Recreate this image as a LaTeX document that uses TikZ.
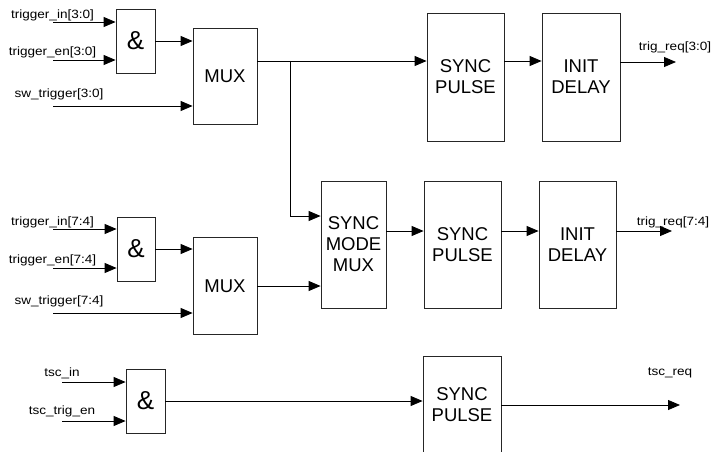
\documentclass[tikz,border=0pt]{standalone}
\usepackage{fontspec}
\usepackage{graphicx}
\setmainfont{Liberation Sans}
\usetikzlibrary{arrows.meta}
\newcommand{\lbl}[1]{\fontsize{12}{14}\selectfont\scalebox{1.13}[1]{#1}}
\begin{document}
\begin{tikzpicture}[x=1pt,y=-1pt,
  blk/.style={draw=black!85,line width=0.8pt,fill=white,inner sep=0pt,align=center,
    font=\fontsize{18.5}{21}\selectfont},
  gate/.style={blk,minimum width=39pt,minimum height=64pt,font=\fontsize{26}{28}\selectfont},
  mux/.style={blk,minimum width=64pt,minimum height=96pt},
  tall/.style={blk,minimum width=77pt,minimum height=128pt},
  arr/.style={line width=0.8pt,-{Triangle[length=12pt,width=10pt]}},
  wire/.style={line width=0.8pt},
  lab/.style={inner sep=0pt}]
\clip (0,0) rectangle (712,452);
\fill[white] (0,0) rectangle (712,452);
% top row
\node[gate] (and1) at (135.5,41) {\&};
\node[mux] (mux1) at (225,76) {MUX};
\node[tall] (sp1) at (465.5,77) {SYNC\\PULSE};
\node[tall,minimum width=78pt] (id1) at (581,77) {INIT\\DELAY};
% middle row
\node[gate,minimum width=38pt] (and2) at (136,249) {\&};
\node[mux,minimum height=97pt] (mux2) at (225,286) {MUX};
\node[tall,minimum width=65pt,minimum height=127pt] (smm) at (353.5,244.5) {SYNC\\MODE\\MUX};
\node[tall,minimum height=127pt] (sp2) at (462.5,244.5) {SYNC\\PULSE};
\node[tall,minimum height=127pt] (id2) at (577.5,244.5) {INIT\\DELAY};
% bottom row
\node[gate] (and3) at (145.5,401) {\&};
\node[tall,minimum width=78pt,minimum height=98pt] (sp3) at (462,405) {SYNC\\PULSE};

% labels
\node[lab] (lti1) at (52.5,15) {\lbl{trigger\_in[3:0]}};
\node[lab] (lte1) at (52.5,52) {\lbl{trigger\_en[3:0]}};
\node[lab] (lsw1) at (59,94) {\lbl{sw\_trigger[3:0]}};
\node[lab] (lo1) at (675,47) {\lbl{trig\_req[3:0]}};
\node[lab] (lti2) at (52.5,222) {\lbl{trigger\_in[7:4]}};
\node[lab] (lte2) at (52.5,260) {\lbl{trigger\_en[7:4]}};
\node[lab] (lsw2) at (59,301) {\lbl{sw\_trigger[7:4]}};
\node[lab] (lo2) at (673,222) {\lbl{trig\_req[7:4]}};
\node[lab] (lti3) at (62,373) {\lbl{tsc\_in}};
\node[lab] (lte3) at (62,411) {\lbl{tsc\_trig\_en}};
\node[lab] (lo3) at (670,373) {\lbl{tsc\_req}};

% free ends
\coordinate (ti1) at (53,22);
\coordinate (te1) at (53,60);
\coordinate (sw1) at (53,106);
\coordinate (b1) at (290,61);
\coordinate (b2) at (290,216);
\coordinate (o1) at (676,62);
\coordinate (ti2) at (53,229);
\coordinate (te2) at (53,268);
\coordinate (sw2) at (53,313);
\coordinate (r2) at (0,231);
\coordinate (o2) at (672,231);
\coordinate (ti3) at (62,382);
\coordinate (te3) at (62,421);
\coordinate (o3) at (680,405);

% top connectors
\draw[arr] (ti1) -- (ti1 -| and1.west);
\draw[arr] (te1) -- (te1 -| and1.west);
\draw[arr] (and1.east) -- (and1.east -| mux1.west);
\draw[arr] (sw1) -- (sw1 -| mux1.west);
\draw[arr] (mux1.east |- b1) -- (b1 -| sp1.west);
\draw[arr] (sp1.east |- b1) -- (b1 -| id1.west);
\draw[arr] (id1.east |- o1) -- (o1);
\draw[arr] (b1) -- (b2) -- (b2 -| smm.west);
% middle connectors
\draw[arr] (ti2) -- (ti2 -| and2.west);
\draw[arr] (te2) -- (te2 -| and2.west);
\draw[arr] (and2.east) -- (and2.east -| mux2.west);
\draw[arr] (sw2) -- (sw2 -| mux2.west);
\draw[arr] (mux2.east) -- (mux2.east -| smm.west);
\draw[arr] (smm.east |- r2) -- (sp2.west |- r2);
\draw[arr] (sp2.east |- r2) -- (id2.west |- r2);
\draw[arr] (id2.east |- o2) -- (o2);
% bottom connectors
\draw[arr] (ti3) -- (ti3 -| and3.west);
\draw[arr] (te3) -- (te3 -| and3.west);
\draw[arr] (and3.east) -- (and3.east -| sp3.west);
\draw[arr] (sp3.east) -- (o3);
\end{tikzpicture}
\end{document}
